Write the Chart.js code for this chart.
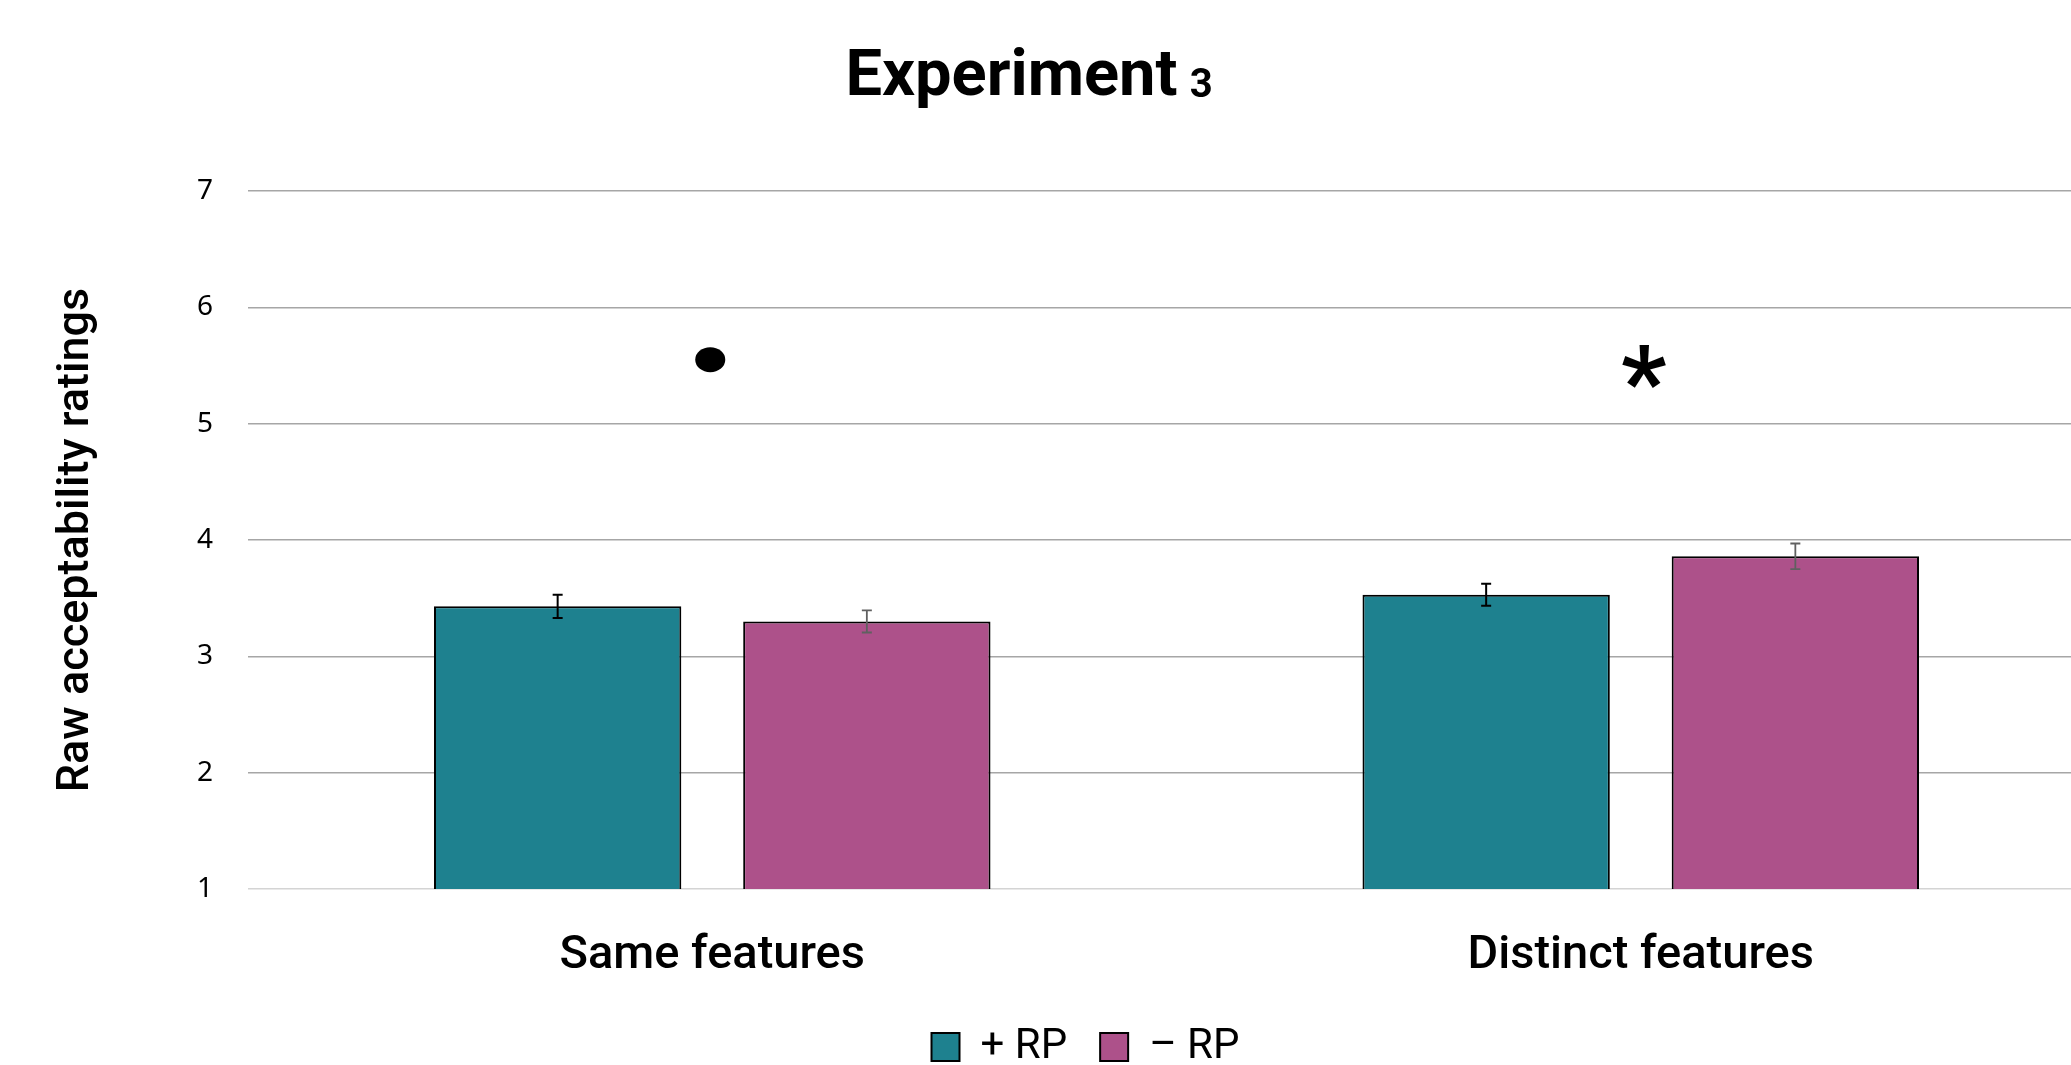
<!DOCTYPE html>
<html>
<head>
<meta charset="utf-8">
<script src="https://cdn.jsdelivr.net/npm/chart.js@4.4.1/dist/chart.umd.min.js"></script>
<style>
  html, body { margin: 0; padding: 0; background: #fff; overflow: hidden; }
  #wrap { position: absolute; left: 0; top: 0; width: 2105px; height: 1078px; }
</style>
</head>
<body>
<div id="wrap"><canvas id="chart" width="2105" height="1078"></canvas></div>
<script>
// data
const categories = ['Same features', 'Distinct features'];
const seriesNames = ['+ RP', '– RP'];
const plusRP = [3.43, 3.53];
const minusRP = [3.30, 3.86];
const plusRPErr = [0.10, 0.095];
const minusRPErr = [0.095, 0.11];
const sigMarks = ['dot', '*'];
const sigLevel = [5.55, 5.51];
const yMin = 1, yMax = 7, yStep = 1;

const teal = '#1E818F';
const magenta = '#AD518A';

// error bars, drawn from the y scale
const errorBars = {
  id: 'errorBars',
  afterDatasetsDraw(chart) {
    const ctx = chart.ctx;
    const y = chart.scales.y;
    const errs = [plusRPErr, minusRPErr];
    const colors = ['#000000', '#606060'];
    chart.data.datasets.forEach((ds, di) => {
      chart.getDatasetMeta(di).data.forEach((bar, i) => {
        const v = ds.data[i];
        const top = y.getPixelForValue(v + errs[di][i]);
        const bot = y.getPixelForValue(v - errs[di][i]);
        ctx.save();
        ctx.strokeStyle = colors[di];
        ctx.lineWidth = di === 0 ? 2 : 1.8;
        ctx.beginPath();
        ctx.moveTo(bar.x, top); ctx.lineTo(bar.x, bot);
        ctx.moveTo(bar.x - 5, top); ctx.lineTo(bar.x + 5, top);
        ctx.moveTo(bar.x - 5, bot); ctx.lineTo(bar.x + 5, bot);
        ctx.stroke();
        ctx.restore();
      });
    });
  }
};

// significance marks above each group
const sigPlugin = {
  id: 'sigMarks',
  afterDatasetsDraw(chart) {
    const ctx = chart.ctx;
    const x = chart.scales.x, y = chart.scales.y;
    sigMarks.forEach((m, i) => {
      const px = x.getPixelForValue(i);
      const py = y.getPixelForValue(sigLevel[i]);
      ctx.save();
      ctx.fillStyle = '#000';
      if (m === 'dot') {
        ctx.beginPath();
        ctx.ellipse(px - 2, py, 15, 12.5, 0, 0, Math.PI * 2);
        ctx.fill();
      } else {
        // asterisk glyph sits high in the em box, so drop the baseline
        ctx.font = 'bold 100px Roboto';
        ctx.textAlign = 'center';
        ctx.textBaseline = 'alphabetic';
        ctx.fillText(m, px + 3, py + 52);
      }
      ctx.restore();
    });
  }
};

// title with the small "3"
const titlePlugin = {
  id: 'bigTitle',
  afterDraw(chart) {
    const ctx = chart.ctx;
    ctx.save();
    ctx.fillStyle = '#000';
    ctx.textBaseline = 'alphabetic';
    ctx.textAlign = 'left';
    const big = 'bold 65px Roboto', small = 'bold 40px Roboto';
    ctx.font = big;
    const w1 = ctx.measureText('Experiment ').width;
    ctx.font = small;
    const w2 = ctx.measureText('3').width;
    const x0 = 1031 - (w1 + w2) / 2;
    ctx.font = big;
    ctx.fillText('Experiment ', x0, 95);
    ctx.font = small;
    ctx.fillText('3', x0 + w1 - 4, 97);
    ctx.restore();
  }
};

// nudge legend to the right like the reference
const legendShift = {
  id: 'legendShift',
  afterLayout(chart) {
    chart.legend.left += 33;
    chart.legend.right += 33;
  }
};

new Chart(document.getElementById('chart').getContext('2d'), {
  type: 'bar',
  data: {
    labels: categories,
    datasets: [{
      label: seriesNames[0],
      data: plusRP,
      backgroundColor: teal,
      borderColor: '#000',
      borderWidth: 2
    }, {
      label: seriesNames[1],
      data: minusRP,
      backgroundColor: magenta,
      borderColor: '#000',
      borderWidth: 2
    }]
  },
  options: {
    responsive: false,
    animation: false,
    devicePixelRatio: 1,
    categoryPercentage: 0.666,
    barPercentage: 0.8,
    layout: { padding: { top: 191, left: 0, right: 0, bottom: 0 } },
    scales: {
      x: {
        grid: { display: false },
        border: { display: false },
        ticks: { color: '#000', padding: 31, font: { family: 'Roboto', size: 47, weight: '500', lineHeight: 1.2 } },
        afterFit(scale) { scale.height = 104; }
      },
      y: {
        min: yMin,
        max: yMax,
        border: { display: false },
        grid: {
          drawTicks: false,
          lineWidth: 1.5,
          color: (c) => c.tick && c.tick.value === yMin ? '#d4d4d4' : '#a6a6a6'
        },
        ticks: { stepSize: yStep, color: '#000', padding: 35, font: { family: 'Noto Sans', size: 28 } },
        title: {
          display: true,
          text: 'Raw acceptability ratings',
          color: '#000',
          padding: { top: 50, bottom: 0 },
          font: { family: 'Roboto', size: 45, weight: '500', lineHeight: 1.2 }
        },
        afterFit(scale) { scale.width = 248; }
      }
    },
    plugins: {
      title: { display: false },
      tooltip: { enabled: false },
      legend: {
        position: 'bottom',
        labels: {
          color: '#000',
          boxWidth: 28,
          boxHeight: 28,
          padding: 33,
          font: { family: 'Roboto', size: 42 }
        }
      }
    }
  },
  plugins: [errorBars, sigPlugin, titlePlugin, legendShift]
});
</script>
</body>
</html>
